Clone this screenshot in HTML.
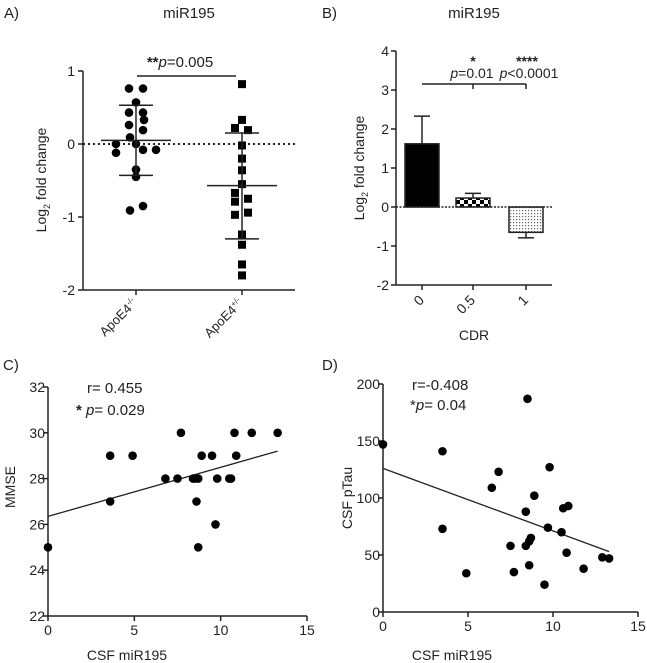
<!DOCTYPE html>
<html><head><meta charset="utf-8"><style>
body{margin:0;background:#fff}
svg{display:block;font-family:"Liberation Sans",Arial,sans-serif;fill:#222}
text{fill:#222}
</style></head><body>
<svg id="s" width="647" height="663">
<defs>
<pattern id="check" width="8" height="8" patternUnits="userSpaceOnUse"><rect width="8" height="8" fill="#fff"/><rect width="4" height="4" fill="#000"/><rect x="4" y="4" width="4" height="4" fill="#000"/></pattern>
<pattern id="dots" width="3" height="3" patternUnits="userSpaceOnUse"><rect width="3" height="3" fill="#fff"/><rect width="1.2" height="1.2" fill="#666"/></pattern>
</defs>
</svg>
<script>
// Panel A data
const aGroups=["ApoE4-/-","ApoE4+/-"];
const aG1=[0.76,0.76,0.57,0.43,0.43,0.33,0.26,0.19,0.09,0.0,0.0,-0.12,-0.08,-0.08,-0.35,-0.45,-0.91,-0.85];
const aG1off=[-7,7,0,-7,7,8,-7,7,-6,0,-20,-20,7,20,0,0,-6,7];
const aG2=[0.82,0.33,0.22,0.19,-0.02,-0.2,-0.36,-0.55,-0.67,-0.79,-0.75,-0.97,-0.94,-1.24,-1.38,-1.65,-1.8];
const aG2off=[0,0,-7,6,0,0,0,0,-7,-7,6,-7,6,0,0,0,0];
const aMean=[0.05,-0.57], aSDhi=[0.53,0.15], aSDlo=[-0.43,-1.3];
const aTicks=[1,0,-1,-2];
// Panel B data
const bCats=["0","0.5","1"];
const bVals=[1.62,0.23,-0.65];
const bErr=[2.33,0.35,-0.79];
const bTicks=[4,3,2,1,0,-1,-2];
// Panel C data
const cX=[0,3.6,3.6,4.9,6.8,7.5,7.7,8.4,8.5,8.7,8.6,8.7,8.9,9.5,9.7,9.8,10.5,10.6,10.8,10.9,11.8,13.3];
const cY=[25,29,27,29,28,28,30,28,28,28,27,25,29,29,26,28,28,28,30,29,30,30];
const cFit=[[0,26.35],[13.3,29.2]];
const cYTicks=[22,24,26,28,30,32], cXTicks=[0,5,10,15];
// Panel D data
const dX=[0,3.5,3.5,4.9,6.4,6.8,7.5,7.7,8.4,8.4,8.5,8.6,8.7,8.6,8.9,9.5,9.7,9.8,10.5,10.6,10.9,10.8,11.8,12.9,13.3];
const dY=[147,141,73,34,109,123,58,35,88,58,187,62,65,41,102,24,74,127,70,91,93,52,38,48,47];
const dFit=[[0,126],[13.3,53]];
const dYTicks=[0,50,100,150,200], dXTicks=[0,5,10,15];

const S=document.getElementById('s'),NS="http://www.w3.org/2000/svg";
function el(t,a,txt){const e=document.createElementNS(NS,t);for(const k in a)e.setAttribute(k,a[k]);if(txt!==undefined)e.textContent=txt;S.appendChild(e);return e;}
function line(x1,y1,x2,y2,w,extra){const e=el('line',Object.assign({x1,y1,x2,y2,stroke:'#222','stroke-width':w||1.5},extra||{}));return e;}

// ---------- Panel A ----------
const aY=v=>144-73*v, aX=[136,242];
let t=el('text',{x:4,y:18,'font-size':15},'A)');
t=el('text',{x:189,y:18,'font-size':15,'text-anchor':'middle'},'miR195');
line(83,aY(1),83,aY(-2));line(83,aY(-2),295,aY(-2));
aTicks.forEach(v=>{line(78,aY(v),83,aY(v));t=el('text',{x:75,y:aY(v)+5,'font-size':14,'text-anchor':'end'},String(v));});
aX.forEach((x,i)=>{line(x,aY(-2),x,aY(-2)+5);
 t=el('text',{x:x+2,y:aY(-2)+14,'font-size':13,'text-anchor':'end',transform:`rotate(-45 ${x+2} ${aY(-2)+14})`});
 
 t.textContent='ApoE4';const ts=document.createElementNS(NS,'tspan');ts.setAttribute('dy','-5');ts.setAttribute('font-size','8');ts.textContent=aGroups[i].slice(5);t.appendChild(ts);});
line(83,aY(0),295,aY(0),2,{'stroke-dasharray':'2,3'});
t=el('text',{x:0,y:0,'font-size':14,'text-anchor':'middle',transform:`translate(46,180) rotate(-90)`});
t.innerHTML='Log<tspan dy="4" font-size="9">2</tspan><tspan dy="-4"> fold change</tspan>';
aG1.forEach((v,i)=>{const c=el('circle',{cx:aX[0]+aG1off[i],cy:aY(v),r:4.3,fill:'#000'});});
aG2.forEach((v,i)=>{const r=el('rect',{x:aX[1]+aG2off[i]-4,y:aY(v)-4,width:8,height:8,fill:'#000'});});
aX.forEach((x,i)=>{line(x-35,aY(aMean[i]),x+35,aY(aMean[i]));line(x,aY(aSDhi[i]),x,aY(aSDlo[i]));
 line(x-17,aY(aSDhi[i]),x+17,aY(aSDhi[i]));line(x-17,aY(aSDlo[i]),x+17,aY(aSDlo[i]));});
line(137,76,236,76);
t=el('text',{x:180,y:67,'font-size':15,'text-anchor':'middle'});
t.innerHTML='<tspan font-weight="bold">**</tspan><tspan font-style="italic">p</tspan>=0.005';

// ---------- Panel B ----------
const bY=v=>207-39*v, bX=[422,473,526];
t=el('text',{x:322,y:18,'font-size':15},'B)');
t=el('text',{x:474,y:18,'font-size':15,'text-anchor':'middle'},'miR195');
line(396,bY(4),396,bY(-2));line(396,bY(-2),552,bY(-2));
bTicks.forEach(v=>{line(391,bY(v),396,bY(v));t=el('text',{x:389,y:bY(v)+5,'font-size':14,'text-anchor':'end'},String(v));});
const fills=['#000','url(#check)','url(#dots)'];
bCats.forEach((c,i)=>{const x=bX[i];
 line(x,bY(-2),x,bY(-2)+5);
 t=el('text',{x:x+3,y:bY(-2)+16,'font-size':14,'text-anchor':'end',transform:`rotate(-45 ${x+3} ${bY(-2)+16})`},c);
 line(x,bY(bVals[i]),x,bY(bErr[i]));line(x-8,bY(bErr[i]),x+8,bY(bErr[i]));
 const y0=Math.min(bY(0),bY(bVals[i])),h=Math.abs(bY(0)-bY(bVals[i]));
 const r=el('rect',{x:x-17,y:y0,width:34,height:h,fill:fills[i],stroke:'#222','stroke-width':1.5});});
line(396,bY(0),552,bY(0),1.5,{'stroke-dasharray':'2,1.5'});
t=el('text',{x:0,y:0,'font-size':14,'text-anchor':'middle',transform:`translate(364,168) rotate(-90)`});
t.innerHTML='Log<tspan dy="4" font-size="9">2</tspan><tspan dy="-4"> fold change</tspan>';
t=el('text',{x:474,y:340,'font-size':14,'text-anchor':'middle'},'CDR');
line(422,84,526,84);line(473,84,473,89);line(526,84,526,89);
t=el('text',{x:473,y:66,'font-size':14,'text-anchor':'middle','font-weight':'bold'},'*');
t=el('text',{x:527,y:66,'font-size':14,'text-anchor':'middle','font-weight':'bold'},'****');
t=el('text',{x:472,y:78,'font-size':14,'text-anchor':'middle'});t.innerHTML='<tspan font-style="italic">p</tspan>=0.01';
t=el('text',{x:529,y:78,'font-size':14,'text-anchor':'middle'});t.innerHTML='<tspan font-style="italic">p</tspan>&lt;0.0001';

// ---------- Scatter helper ----------
function scatter(o){
 const X=v=>o.x0+(o.x1-o.x0)*(v-o.xmin)/(o.xmax-o.xmin);
 const Y=v=>o.y0-(o.y0-o.y1)*(v-o.ymin)/(o.ymax-o.ymin);
 line(o.x0,o.y1,o.x0,o.y0);line(o.x0,o.y0,o.x1,o.y0);
 o.yt.forEach(v=>{line(o.x0-5,Y(v),o.x0,Y(v));const t=el('text',{x:o.x0-3,y:Y(v)+5,'font-size':14,'text-anchor':'end'},String(v));});
 o.xt.forEach(v=>{line(X(v),o.y0,X(v),o.y0+5);const t=el('text',{x:X(v),y:o.y0+19,'font-size':14,'text-anchor':'middle'},String(v));});
 line(X(o.fit[0][0]),Y(o.fit[0][1]),X(o.fit[1][0]),Y(o.fit[1][1]),1.3);
 o.xs.forEach((v,i)=>{const c=el('circle',{cx:X(v),cy:Y(o.ys[i]),r:4.3,fill:'#000'});});
}
// Panel C
t=el('text',{x:3,y:370,'font-size':15},'C)');
scatter({p:'c',x0:48,x1:307,xmin:0,xmax:15,y0:616,y1:387,ymin:22,ymax:32,xs:cX,ys:cY,fit:cFit,yt:cYTicks,xt:cXTicks});
t=el('text',{x:87,y:393,'font-size':15},'r= 0.455');
t=el('text',{x:76,y:415,'font-size':15});t.innerHTML='<tspan font-weight="bold">*</tspan> <tspan font-style="italic">p</tspan>= 0.029';
t=el('text',{x:0,y:0,'font-size':14,'text-anchor':'middle',transform:'translate(15,487) rotate(-90)'},'MMSE');
t=el('text',{x:127,y:660,'font-size':14,'text-anchor':'middle'},'CSF miR195');
// Panel D
t=el('text',{x:322,y:370,'font-size':15},'D)');
scatter({p:'d',x0:383,x1:638,xmin:0,xmax:15,y0:612,y1:384,ymin:0,ymax:200,xs:dX,ys:dY,fit:dFit,yt:dYTicks,xt:dXTicks});
t=el('text',{x:412,y:390,'font-size':15},'r=-0.408');
t=el('text',{x:410,y:410,'font-size':15});t.innerHTML='*<tspan font-style="italic">p</tspan>= 0.04';
t=el('text',{x:0,y:0,'font-size':14,'text-anchor':'middle',transform:'translate(352,498) rotate(-90)'},'CSF pTau');
t=el('text',{x:452,y:660,'font-size':14,'text-anchor':'middle'},'CSF miR195');
</script>
</body></html>
